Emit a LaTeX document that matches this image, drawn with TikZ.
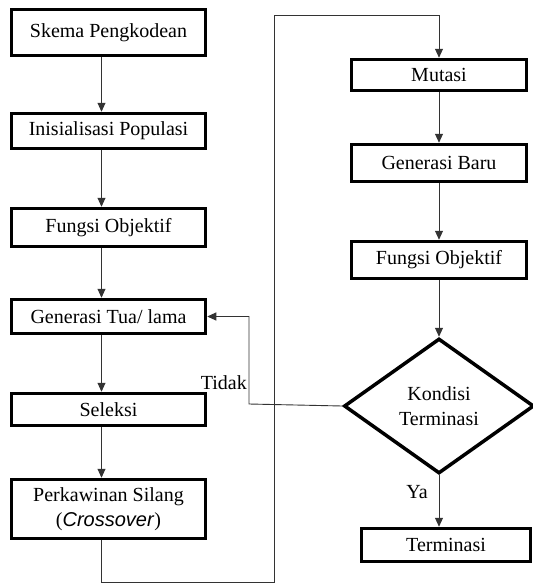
\documentclass[tikz,border=0pt]{standalone}
\usepackage{fontspec}
\setmainfont{Liberation Serif}
\setsansfont{Liberation Sans}
\usetikzlibrary{arrows.meta,shapes.geometric}
\definecolor{garis}{HTML}{333333}

\begin{document}
\begin{tikzpicture}[x=1pt,y=1pt,
  box/.style={draw,line width=3.5pt,minimum width=194pt,inner sep=0pt,font=\fontsize{20}{25}\selectfont,align=center},
  rbox/.style={box,minimum width=175pt},
  dec/.style={draw,line width=3.5pt,diamond,minimum width=190pt,minimum height=135pt,inner sep=0pt,font=\fontsize{20}{25}\selectfont,align=center},
  lbl/.style={font=\fontsize{20}{24}\selectfont,inner sep=0pt},
  pipe/.style={-{Triangle[length=9pt,width=8pt]},garis,line width=0.9pt}]
  \useasboundingbox (0,0) rectangle (533,-584);
  % Kolom kiri
  \node[box,minimum height=46pt] (sk) at (108.5,-32.5) {Skema Pengkodean};
  \node[box,minimum height=35pt] (ini) at (108.5,-131) {Inisialisasi Populasi};
  \node[box,minimum height=38pt] (fo) at (108.5,-227.5) {Fungsi Objektif};
  \node[box,minimum height=34pt] (gt) at (108.5,-316.5) {Generasi Tua/ lama};
  \node[box,minimum height=32pt] (sel) at (108.5,-409.5) {Seleksi};
  \node[box,minimum height=59pt] (pk) at (108.5,-509) {Perkawinan Silang\\(\textsf{\itshape Crossover})};
  % Kolom kanan
  \node[rbox,minimum height=31pt] (mt) at (439,-75) {Mutasi};
  \node[rbox,minimum height=37pt] (gb) at (439,-163) {Generasi Baru};
  \node[rbox,minimum height=37pt] (fo2) at (439,-260) {Fungsi Objektif};
  \node[dec] (kd) at (439,-406) {Kondisi\\Terminasi};
  \node[rbox,minimum width=169pt,minimum height=33pt] (tm) at (446,-545) {Terminasi};
  % Titik belok
  \coordinate (c1) at (274,-582);
  \coordinate (c2) at (274,-15);
  \coordinate (t1) at (249,-404);
  % Alur
  \draw[pipe] ([xshift=-7pt]sk.south) -- ([xshift=-7pt]ini.north);
  \draw[pipe] ([xshift=-7pt]ini.south) -- ([xshift=-7pt]fo.north);
  \draw[pipe] ([xshift=-7pt]fo.south) -- ([xshift=-7pt]gt.north);
  \draw[pipe] ([xshift=-7pt]gt.south) -- ([xshift=-7pt]sel.north);
  \draw[pipe] ([xshift=-7pt]sel.south) -- ([xshift=-7pt]pk.north);
  \draw[pipe] ([xshift=-7pt]pk.south) |- (c1) -- (c2) -| (mt.north);
  \draw[pipe] (mt) -- (gb);
  \draw[pipe] (gb) -- (fo2);
  \draw[pipe] (fo2) -- (kd);
  \draw[pipe] (kd.south) -- (kd.south |- tm.north);
  \draw[pipe] (kd.west) -- (t1) |- (gt.east);
  \node[lbl,anchor=base east] (tidak) at (247,-389) {Tidak};
  \node[lbl,anchor=base east] (ya) at (428,-498) {Ya};
\end{tikzpicture}
\end{document}
